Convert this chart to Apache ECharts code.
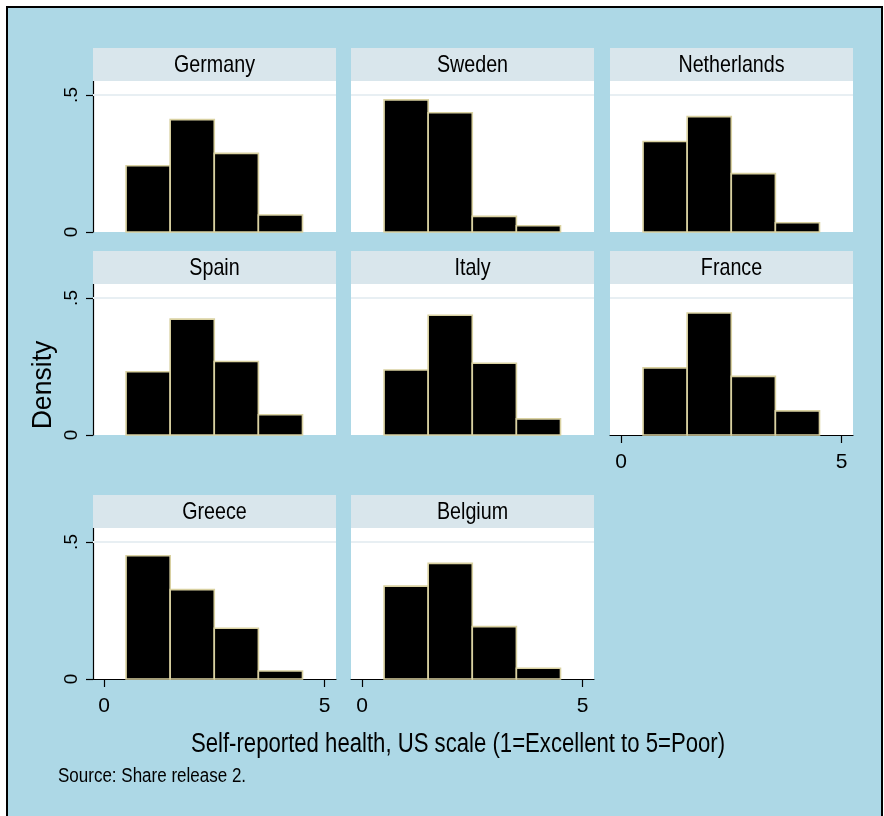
<!DOCTYPE html>
<html>
<head>
<meta charset="utf-8">
<script src="https://cdn.jsdelivr.net/npm/echarts@6/dist/echarts.min.js"></script>
<style>
  html, body { margin: 0; padding: 0; background: #fff; }
  #chart { width: 884px; height: 816px; }
</style>
</head>
<body>
<div id="chart"></div>
<script>
// histogram data: density per health category (bins 1..4)
const countries = ['Germany', 'Sweden', 'Netherlands', 'Spain', 'Italy', 'France', 'Greece', 'Belgium'];
const binEdges = [0.5, 1.5, 2.5, 3.5, 4.5];
const germany = [0.242, 0.410, 0.287, 0.062];
const sweden = [0.482, 0.435, 0.057, 0.023];
const netherlands = [0.330, 0.421, 0.213, 0.034];
const spain = [0.231, 0.423, 0.268, 0.074];
const italy = [0.237, 0.437, 0.262, 0.059];
const france = [0.245, 0.445, 0.214, 0.088];
const greece = [0.450, 0.326, 0.185, 0.029];
const belgium = [0.339, 0.422, 0.191, 0.039];
const densities = [germany, sweden, netherlands, spain, italy, france, greece, belgium];
const yTicks = [0, 0.5];
const xTicks = [0, 5];

const FONT = '"Liberation Sans", Arial, sans-serif';
const NARROW = 0.82; // stata text looks condensed
const colLeft = [93, 351, 610];
const rowTop = [48, 251, 495];
const panelW = 243, stripH = 33, plotH = 151;

const chart = echarts.init(document.getElementById('chart'));

const grids = [], xAxes = [], yAxes = [], series = [], graphics = [];

// outer frame
graphics.push({
  type: 'rect', z: -10,
  shape: { x: 7, y: 7, width: 875, height: 830 },
  style: { fill: '#add8e6', stroke: '#000', lineWidth: 2 }
});

countries.forEach((name, i) => {
  const col = i % 3, row = Math.floor(i / 3);
  const left = colLeft[col], top = rowTop[row] + stripH;
  const showY = col === 0;
  const showX = i >= 5;

  grids.push({
    left: left, top: top, width: panelW, height: plotH,
    show: true, backgroundColor: '#fff', borderWidth: 0
  });

  xAxes.push({
    gridIndex: i, type: 'value', min: -0.25, max: 5.26,
    show: showX,
    splitLine: { show: false },
    axisLine: { show: showX, onZero: false, lineStyle: { color: '#000', width: 1.2 } },
    axisTick: { show: showX, customValues: xTicks, length: 8, lineStyle: { color: '#000', width: 1.2 } },
    axisLabel: { show: showX, customValues: xTicks, margin: 17, color: '#000', fontSize: 21, fontFamily: FONT }
  });

  yAxes.push({
    gridIndex: i, type: 'value', min: 0, max: 0.551,
    show: showY,
    splitLine: { show: false },
    axisLine: { show: showY, onZero: false, lineStyle: { color: '#000', width: 1.2 } },
    axisTick: { show: showY, customValues: yTicks, length: 7, lineStyle: { color: '#000', width: 1.2 } },
    axisLabel: {
      show: showY, customValues: yTicks, rotate: 90, margin: 12,
      color: '#000', fontSize: 19, fontFamily: FONT,
      formatter: v => (v === 0 ? '0' : String(v).replace(/^0/, ''))
    }
  });

  const data = densities[i].map((d, k) => [binEdges[k], binEdges[k + 1], d]);
  series.push({
    type: 'custom', xAxisIndex: i, yAxisIndex: i,
    encode: { x: [0, 1], y: 2 },
    data: data,
    renderItem: (params, api) => {
      const p0 = api.coord([api.value(0), api.value(2)]);
      const p1 = api.coord([api.value(1), 0]);
      return {
        type: 'rect',
        shape: { x: p0[0], y: p0[1], width: p1[0] - p0[0], height: p1[1] - p0[1] },
        style: { fill: '#000', stroke: '#d9d1a1', lineWidth: 1.6 }
      };
    },
    markLine: {
      silent: true, symbol: 'none', label: { show: false },
      lineStyle: { color: '#e8eff3', width: 2, type: 'solid' },
      data: [{ yAxis: 0.5 }]
    },
    z: 3
  });

  // title strip
  graphics.push({
    type: 'rect', z: 1,
    shape: { x: left, y: rowTop[row], width: panelW, height: stripH },
    style: { fill: '#d9e6ec' }
  });
  graphics.push({
    type: 'text', z: 2,
    x: left + panelW / 2, y: rowTop[row] + stripH / 2 + 1, scaleX: NARROW,
    style: { text: name, fill: '#000', font: '24px ' + FONT, textAlign: 'center', textVerticalAlign: 'middle' }
  });
});

graphics.push({
  type: 'text', z: 2, x: 43, y: 385, rotation: Math.PI / 2, scaleX: 0.95,
  style: { text: 'Density', fill: '#000', font: '28px ' + FONT, textAlign: 'center', textVerticalAlign: 'middle' }
});
graphics.push({
  type: 'text', z: 2, x: 458, y: 745, scaleX: NARROW,
  style: { text: 'Self-reported health, US scale (1=Excellent to 5=Poor)', fill: '#000', font: '27px ' + FONT, textAlign: 'center', textVerticalAlign: 'middle' }
});
graphics.push({
  type: 'text', z: 2, x: 58, y: 776, scaleX: 0.85,
  style: { text: 'Source: Share release 2.', fill: '#000', font: '20px ' + FONT, textAlign: 'left', textVerticalAlign: 'middle' }
});

chart.setOption({
  animation: false,
  backgroundColor: '#fff',
  grid: grids,
  xAxis: xAxes,
  yAxis: yAxes,
  series: series,
  graphic: { elements: graphics }
});
</script>
</body>
</html>
